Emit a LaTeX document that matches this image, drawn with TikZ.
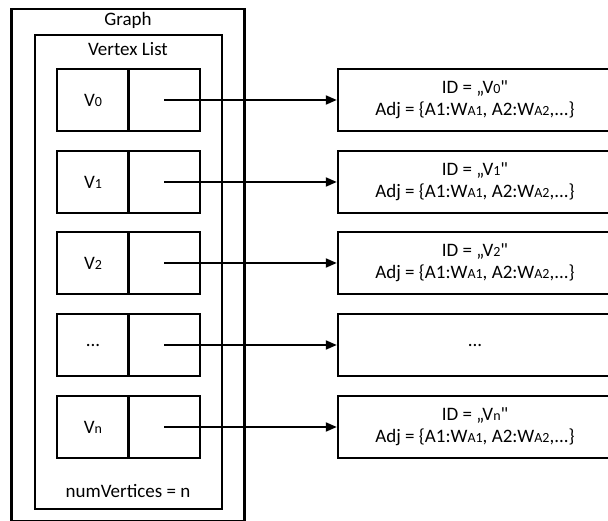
\documentclass[tikz,border=0pt]{standalone}
\usepackage{fontspec}
\newfontfamily\calfont{Carlito}
\usetikzlibrary{arrows.meta}
\newcommand{\sm}[1]{{\fontsize{14}{14}\selectfont #1}}
\tikzset{
    box/.style={draw, line width=2.4pt, rectangle, inner sep=0pt},
    cell/.style={box, minimum width=72pt, minimum height=62pt,
        font=\calfont\fontsize{19}{22}\selectfont},
    info/.style={box, minimum width=274pt, minimum height=62pt, align=center,
        font=\calfont\fontsize{19}{22}\selectfont},
    lbl/.style={font=\calfont\fontsize{19}{22}\selectfont, inner sep=0pt},
    ptr/.style={line width=2pt, -{Triangle[length=11pt,width=9pt]}}
}
\begin{document}
\begin{tikzpicture}[x=1pt,y=-1pt]
    \useasboundingbox (0,0) rectangle (608,521);
    \clip (0,0) rectangle (608,521);
    % graph and list
    \node [box, minimum width=233pt, minimum height=512pt] (graph) at (128,265) {};
    \node [lbl] (graphlbl) at (128,20) {Graph};
    \node [box, minimum width=187pt, minimum height=474pt] (list) at (128.5,272) {};
    \node [lbl] (listlbl) at (128,49) {Vertex List};
    \node [lbl] (numlbl) at (128,491) {numVertices = n};
    % vertices
    \node [cell] (v0) at (93,100) {V\sm{0}};
    \node [cell] (p0) at (164,100) {};
    \node [cell] (v1) at (93,182) {V\sm{1}};
    \node [cell] (p1) at (164,182) {};
    \node [cell] (v2) at (93,263) {V\sm{2}};
    \node [cell] (p2) at (164,263) {};
    \node [cell] (vd) at (93,345) {...};
    \node [cell] (pd) at (164,345) {};
    \node [cell] (vn) at (93,427) {V\sm{n}};
    \node [cell] (pn) at (164,427) {};
    % vertex objects
    \node [info] (o0) at (475,100) {ID = „V\sm{0}"\\Adj = \{A1:W\sm{A1}, A2:W\sm{A2},...\}};
    \node [info] (o1) at (475,182) {ID = „V\sm{1}"\\Adj = \{A1:W\sm{A1}, A2:W\sm{A2},...\}};
    \node [info] (o2) at (475,263) {ID = „V\sm{2}"\\Adj = \{A1:W\sm{A1}, A2:W\sm{A2},...\}};
    \node [info] (od) at (475,345) {...};
    \node [info] (on) at (475,427) {ID = „V\sm{n}"\\Adj = \{A1:W\sm{A1}, A2:W\sm{A2},...\}};
    % pointers
    \draw [ptr] (p0.center) -- (o0.west);
    \draw [ptr] (p1.center) -- (o1.west);
    \draw [ptr] (p2.center) -- (o2.west);
    \draw [ptr] (pd.center) -- (od.west);
    \draw [ptr] (pn.center) -- (on.west);
\end{tikzpicture}
\end{document}
